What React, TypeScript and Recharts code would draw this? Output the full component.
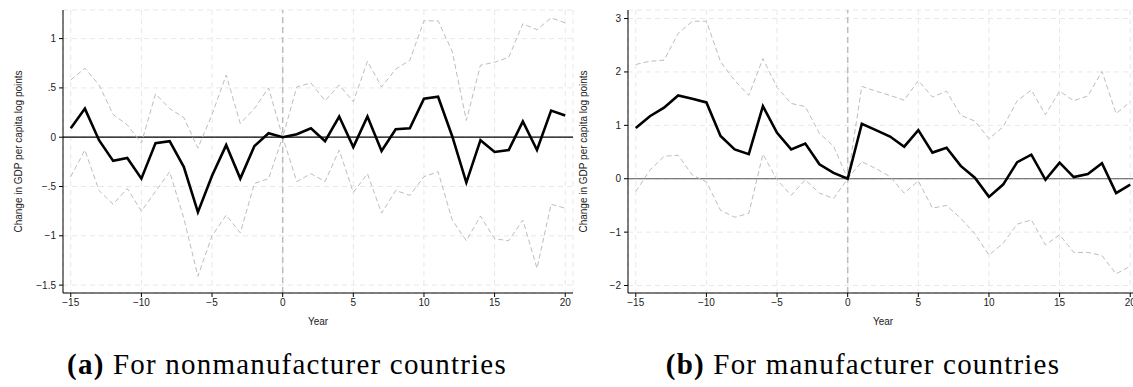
import { LineChart, Line, XAxis, YAxis, CartesianGrid, ReferenceLine } from "recharts"

const years = [-15, -14, -13, -12, -11, -10, -9, -8, -7, -6, -5, -4, -3, -2, -1, 0, 1, 2, 3, 4, 5, 6, 7, 8, 9, 10, 11, 12, 13, 14, 15, 16, 17, 18, 19, 20]

// (a) nonmanufacturer countries
const nonmfgEst = [0.09, 0.29, -0.03, -0.24, -0.21, -0.42, -0.06, -0.04, -0.3, -0.76, -0.39, -0.08, -0.42, -0.09, 0.04, 0, 0.03, 0.09, -0.04, 0.21, -0.1, 0.21, -0.14, 0.08, 0.09, 0.39, 0.41, 0.01, -0.46, -0.03, -0.15, -0.13, 0.16, -0.13, 0.27, 0.22]
const nonmfgUpper = [0.58, 0.7, 0.53, 0.23, 0.125, -0.06, 0.44, 0.29, 0.2, -0.11, 0.23, 0.63, 0.14, 0.29, 0.5, 0, 0.51, 0.55, 0.37, 0.53, 0.36, 0.77, 0.51, 0.69, 0.78, 1.18, 1.18, 0.87, 0.17, 0.73, 0.76, 0.81, 1.15, 1.09, 1.21, 1.16]
const nonmfgLower = [-0.4, -0.13, -0.54, -0.68, -0.52, -0.75, -0.55, -0.35, -0.82, -1.41, -1.0, -0.79, -0.97, -0.47, -0.42, 0, -0.45, -0.37, -0.45, -0.13, -0.56, -0.37, -0.77, -0.54, -0.59, -0.4, -0.35, -0.84, -1.05, -0.8, -1.03, -1.05, -0.84, -1.33, -0.68, -0.72]

// (b) manufacturer countries
const mfgEst = [0.95, 1.17, 1.33, 1.56, 1.5, 1.43, 0.8, 0.55, 0.46, 1.36, 0.86, 0.55, 0.66, 0.27, 0.11, 0, 1.03, 0.91, 0.79, 0.6, 0.91, 0.49, 0.58, 0.24, 0.02, -0.34, -0.11, 0.31, 0.45, -0.02, 0.3, 0.03, 0.09, 0.29, -0.27, -0.11]
const mfgUpper = [2.14, 2.2, 2.22, 2.72, 2.95, 2.95, 2.19, 1.84, 1.56, 2.25, 1.71, 1.41, 1.35, 0.85, 0.61, 0, 1.73, 1.64, 1.56, 1.47, 1.84, 1.53, 1.64, 1.19, 1.08, 0.75, 0.97, 1.46, 1.66, 1.2, 1.64, 1.46, 1.55, 2.01, 1.22, 1.44]
const mfgLower = [-0.24, 0.16, 0.42, 0.44, 0.07, -0.06, -0.59, -0.72, -0.65, 0.46, -0.02, -0.31, -0.02, -0.27, -0.37, 0, 0.32, 0.19, 0.04, -0.27, -0.04, -0.55, -0.5, -0.74, -1.03, -1.43, -1.21, -0.85, -0.77, -1.24, -1.05, -1.38, -1.38, -1.44, -1.78, -1.64]

const xTicks = [-15, -10, -5, 0, 5, 10, 15, 20]
const nonmfgYTicks = [-1.5, -1, -0.5, 0, 0.5, 1]
const mfgYTicks = [-2, -1, 0, 1, 2, 3]

const buildRows = (est: number[], upper: number[], lower: number[]) =>
  years.map((year, i) => ({ year, est: est[i], upper: upper[i], lower: lower[i] }))

// stata style: "−.5", "−1.5"
function fmt(v: number) {
  if (v === 0) return "0"
  let s = String(Math.abs(v))
  if (s.startsWith("0.")) s = s.slice(1)
  return (v < 0 ? "\u2212" : "") + s
}

const tickStyle = { fontFamily: "Liberation Sans, Arial, sans-serif", fontSize: 10, fill: "#222" }

interface PanelProps {
  rows: { year: number; est: number; upper: number; lower: number }[]
  yDomain: [number, number]
  yTicks: number[]
  left: number
  zeroColor: string
}

function Panel({ rows, yDomain, yTicks, left, zeroColor }: PanelProps) {
  return (
    <div style={{ position: "absolute", left, top: 0 }}>
      <LineChart width={580} height={330} data={rows} margin={{ top: 10, right: 7, bottom: 7, left: 0 }}>
        <CartesianGrid stroke="#e8e8e8" strokeDasharray="5 4" />
        <XAxis
          dataKey="year"
          type="number"
          domain={[-15.55, 20.55]}
          ticks={xTicks}
          tickFormatter={fmt}
          tick={tickStyle}
          tickSize={4}
          tickMargin={2}
          axisLine={{ stroke: "#000" }}
          tickLine={{ stroke: "#000" }}
          height={30}
          allowDataOverflow
          label={{ value: "Year", position: "insideBottom", offset: -2, style: tickStyle }}
        />
        <YAxis
          type="number"
          domain={yDomain}
          ticks={yTicks}
          tickFormatter={fmt}
          tick={tickStyle}
          tickSize={4}
          tickMargin={3}
          axisLine={{ stroke: "#000" }}
          tickLine={{ stroke: "#000" }}
          width={63}
          allowDataOverflow
          label={{
            value: "Change in GDP per capita log points",
            angle: -90,
            position: "insideLeft",
            offset: 18,
            style: { ...tickStyle, textAnchor: "middle" },
          }}
        />
        <ReferenceLine x={0} stroke="#bdbdbd" strokeWidth={1.5} strokeDasharray="6 4" />
        <ReferenceLine y={0} stroke={zeroColor} strokeWidth={1.2} />
        <Line dataKey="upper" stroke="#bdbdbd" strokeWidth={1} strokeDasharray="5 3" dot={false} isAnimationActive={false} />
        <Line dataKey="lower" stroke="#bdbdbd" strokeWidth={1} strokeDasharray="5 3" dot={false} isAnimationActive={false} />
        <Line dataKey="est" stroke="#000" strokeWidth={2.6} dot={false} isAnimationActive={false} strokeLinejoin="miter" />
      </LineChart>
    </div>
  )
}

const captionStyle: React.CSSProperties = {
  position: "absolute",
  top: 348,
  fontFamily: "Liberation Serif, Times New Roman, serif",
  fontSize: 29,
  letterSpacing: 1.2,
  whiteSpace: "nowrap",
  transform: "translateX(-50%)",
  color: "#000",
}

export default function App() {
  return (
    <div style={{ position: "absolute", left: 0, top: 0, width: 1133, height: 387, overflow: "hidden", background: "#fff" }}>
      <Panel rows={buildRows(nonmfgEst, nonmfgUpper, nonmfgLower)} yDomain={[-1.58, 1.29]} yTicks={nonmfgYTicks} left={0} zeroColor="#000" />
      <Panel rows={buildRows(mfgEst, mfgUpper, mfgLower)} yDomain={[-2.14, 3.16]} yTicks={mfgYTicks} left={565} zeroColor="#555" />
      <div style={{ ...captionStyle, left: 287 }}>
        <b>(a)</b> For nonmanufacturer countries
      </div>
      <div style={{ ...captionStyle, left: 863 }}>
        <b>(b)</b> For manufacturer countries
      </div>
    </div>
  )
}
